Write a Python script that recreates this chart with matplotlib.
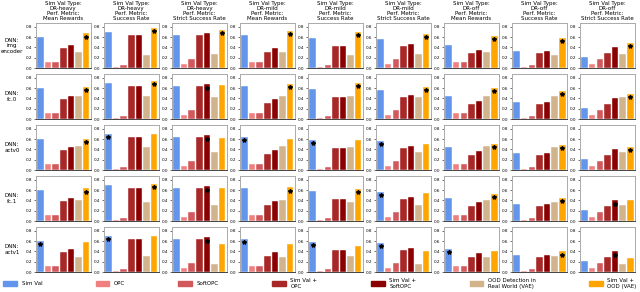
import matplotlib.pyplot as plt
import numpy as np

# column set-up: sim val type x perf metric
col_titles = [
    'Sim Val Type:\nDR-heavy\nPerf. Metric:\nMean Rewards',
    'Sim Val Type:\nDR-heavy\nPerf. Metric:\nSuccess Rate',
    'Sim Val Type:\nDR-heavy\nPerf. Metric:\nStrict Success Rate',
    'Sim Val Type:\nDR-mild\nPerf. Metric:\nMean Rewards',
    'Sim Val Type:\nDR-mild\nPerf. Metric:\nSuccess Rate',
    'Sim Val Type:\nDR-mild\nPerf. Metric:\nStrict Success Rate',
    'Sim Val Type:\nDR-off\nPerf. Metric:\nMean Rewards',
    'Sim Val Type:\nDR-off\nPerf. Metric:\nSuccess Rate',
    'Sim Val Type:\nDR-off\nPerf. Metric:\nStrict Success Rate',
]
row_labels = ['DNN:\nimg\nencoder', 'DNN:\nfc.0', 'DNN:\nactv0', 'DNN:\nfc.1', 'DNN:\nactv1']

methods = ['Sim Val', 'OPC', 'SoftOPC', 'Sim Val +\nOPC', 'Sim Val +\nSoftOPC',
           'OOD Detection in\nReal World (VAE)', 'Sim Val +\nOOD (VAE)']
colors = ['#6495ED', '#F08080', '#D2595B', '#A82828', '#8B0000', '#D2B48C', '#FFA500']

# bars that do not depend on the DNN layer (one value per column)
sim_val = [0.60, 0.70, 0.64, 0.64, 0.59, 0.56, 0.44, 0.34, 0.22]
opc = [0.11, 0.02, 0.08, 0.11, 0.02, 0.08, 0.11, 0.02, 0.08]
soft_opc = [0.11, 0.07, 0.18, 0.11, 0.07, 0.18, 0.11, 0.07, 0.18]
sim_val_opc = [0.38, 0.64, 0.64, 0.31, 0.43, 0.43, 0.29, 0.30, 0.30]
sim_val_soft_opc = [0.44, 0.64, 0.67, 0.39, 0.43, 0.47, 0.36, 0.34, 0.40]

# OOD detection in real world, per DNN layer
ood_img_encoder = [0.31, 0.26, 0.28, 0.31, 0.26, 0.28, 0.31, 0.26, 0.28]
ood_fc0 = [0.45, 0.45, 0.43, 0.45, 0.45, 0.43, 0.45, 0.45, 0.43]
ood_actv0 = [0.47, 0.45, 0.35, 0.47, 0.45, 0.35, 0.47, 0.45, 0.35]
ood_fc1 = [0.41, 0.36, 0.32, 0.41, 0.36, 0.32, 0.41, 0.36, 0.32]
ood_actv1 = [0.29, 0.31, 0.16, 0.29, 0.31, 0.16, 0.29, 0.31, 0.16]

# sim val + OOD, per DNN layer
sv_ood_img_encoder = [0.67, 0.78, 0.73, 0.71, 0.70, 0.66, 0.62, 0.58, 0.49]
sv_ood_fc0 = [0.62, 0.73, 0.66, 0.68, 0.70, 0.62, 0.60, 0.55, 0.48]
sv_ood_actv0 = [0.61, 0.69, 0.62, 0.60, 0.58, 0.50, 0.50, 0.48, 0.44]
sv_ood_fc1 = [0.63, 0.72, 0.64, 0.65, 0.62, 0.55, 0.52, 0.45, 0.40]
sv_ood_actv1 = [0.59, 0.69, 0.55, 0.55, 0.50, 0.40, 0.40, 0.40, 0.28]

ood_rows = [ood_img_encoder, ood_fc0, ood_actv0, ood_fc1, ood_actv1]
sv_ood_rows = [sv_ood_img_encoder, sv_ood_fc0, sv_ood_actv0, sv_ood_fc1, sv_ood_actv1]


def main():
    fig, axes = plt.subplots(5, 9, figsize=(6.4, 2.92), dpi=100)
    fig.subplots_adjust(left=0.056, right=0.992, top=0.921, bottom=0.068,
                        wspace=0.24, hspace=0.13)
    x = np.arange(len(methods))

    for r in range(5):
        for c in range(9):
            ax = axes[r, c]
            vals = [sim_val[c], opc[c], soft_opc[c], sim_val_opc[c],
                    sim_val_soft_opc[c], ood_rows[r][c], sv_ood_rows[r][c]]
            ax.bar(x, vals, width=0.85, color=colors, edgecolor='white',
                   linewidth=0.3)
            best = int(np.argmax(vals))
            ax.plot(best, vals[best] - 0.06, marker='*', color='black',
                    markersize=3, linestyle='none')
            ax.set_xlim(-0.6, 6.6)
            ax.set_ylim(0, 0.87)
            ax.set_yticks([0, 0.2, 0.4, 0.6, 0.8])
            ax.set_xticks([])
            ax.tick_params(axis='y', labelsize=3, length=1.5, width=0.4, pad=1)
            for side in ['top', 'left', 'right']:
                ax.spines[side].set_color('#aaaaaa')
                ax.spines[side].set_linewidth(0.7)
            ax.spines['bottom'].set_color('#444444')
            ax.spines['bottom'].set_linewidth(0.7)
            if r == 0:
                ax.set_title(col_titles[c], fontsize=4, pad=2, linespacing=1.0)
            if c == 0:
                ax.set_ylabel(row_labels[r], fontsize=4, rotation=0,
                              ha='center', va='center', labelpad=10,
                              linespacing=1.1)

    handles = [plt.Rectangle((0, 0), 1, 1, color=col) for col in colors]
    fig.legend(handles, methods, loc='lower left', ncol=7, mode='expand',
               bbox_to_anchor=(0.0, 0.0, 1.0, 0.06), fontsize=4, frameon=False,
               handlelength=2.5, handleheight=1.2, borderaxespad=0.2)

    fig.savefig('out.png', dpi=100)


if __name__ == '__main__':
    main()
